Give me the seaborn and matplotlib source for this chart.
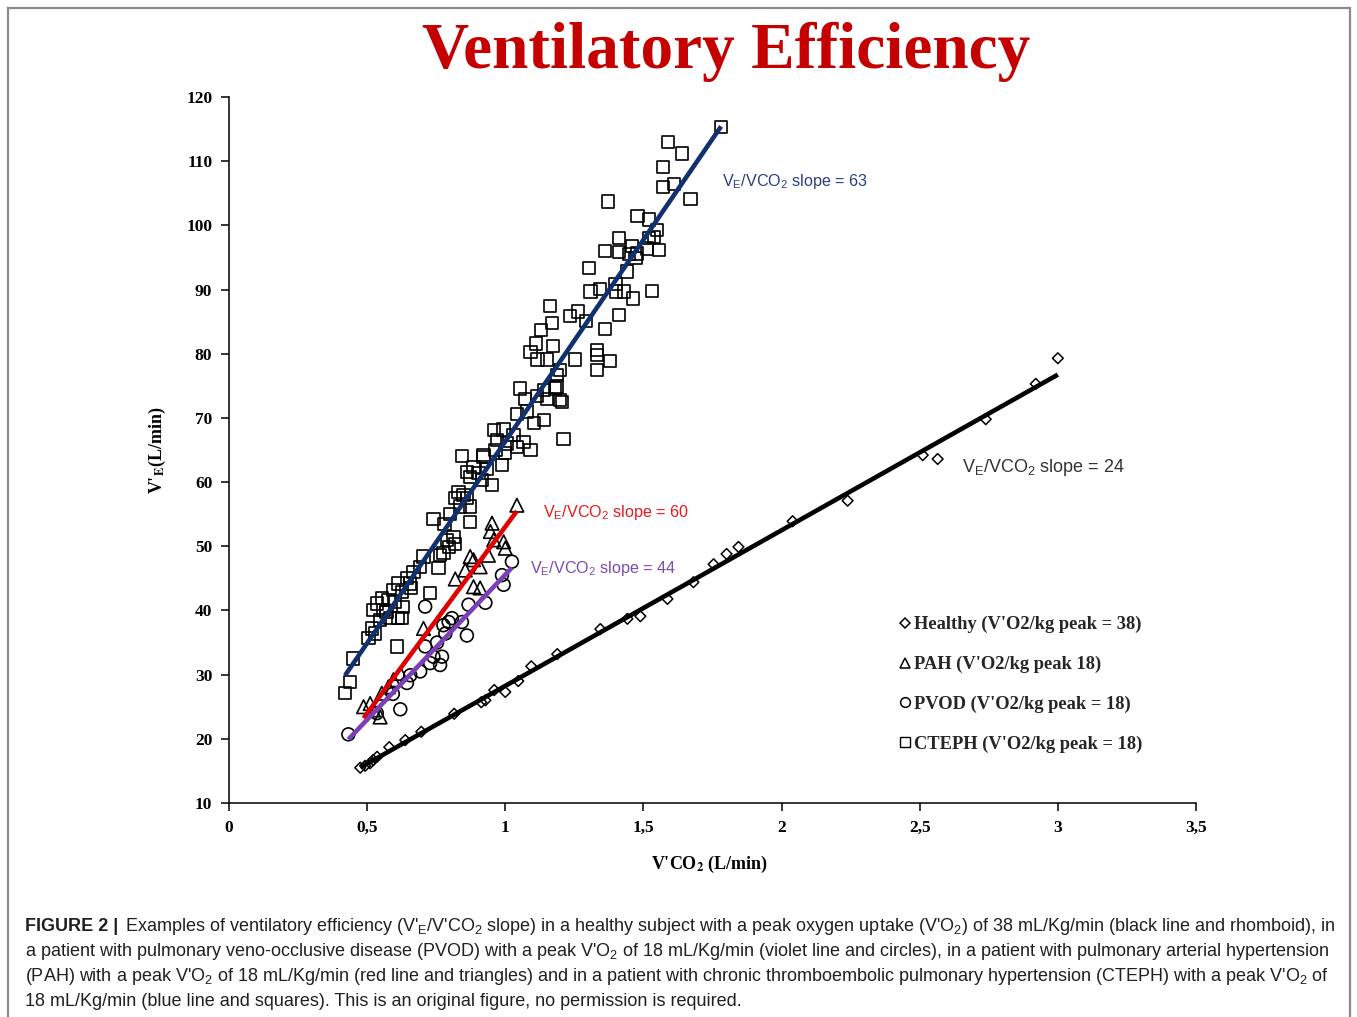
import numpy as np
import matplotlib
matplotlib.use("Agg")
import matplotlib.pyplot as plt
import seaborn as sns
from matplotlib.lines import Line2D
from matplotlib.patches import Rectangle

# ---------------- data ----------------
healthy_x = [0.475, 0.493, 0.511, 0.522, 0.536, 0.580, 0.638, 0.696, 0.815, 0.913, 0.928,
             0.960, 1.000, 1.047, 1.094, 1.188, 1.344, 1.442, 1.489, 1.587, 1.681, 1.754,
             1.801, 1.844, 2.040, 2.239, 2.511, 2.565, 2.739, 2.920, 3.000]
healthy_y = [15.5, 15.8, 16.2, 16.7, 17.2, 18.7, 19.8, 21.1, 23.9, 25.7, 26.0,
             27.6, 27.3, 29.0, 31.3, 33.2, 37.1, 38.7, 39.1, 41.8, 44.4, 47.2,
             48.8, 49.9, 53.9, 57.1, 64.2, 63.6, 69.8, 75.3, 79.3]

pah_x = [0.487, 0.511, 0.523, 0.547, 0.553, 0.577, 0.595, 0.620, 0.704, 0.819, 0.855, 0.873,
         0.885, 0.885, 0.909, 0.909, 0.939, 0.946, 0.952, 0.958, 0.994, 1.000, 1.042]
pah_y = [25.0, 25.5, 24.5, 23.4, 27.1, 28.1, 29.2, 30.2, 37.2, 44.9, 46.3, 48.4,
         47.9, 43.7, 43.5, 46.8, 48.6, 52.3, 53.6, 51.0, 50.7, 49.7, 56.4]

pvod_x = [0.432, 0.535, 0.620, 0.593, 0.644, 0.656, 0.692, 0.728, 0.764, 0.771, 0.740, 0.710,
          0.753, 0.783, 0.776, 0.795, 0.807, 0.861, 0.843, 0.710, 0.867, 0.928, 0.994, 0.988, 1.024]
pvod_y = [20.7, 24.0, 24.6, 27.0, 28.7, 29.9, 30.5, 31.8, 31.5, 32.8, 32.8, 34.4,
          35.0, 36.4, 37.7, 38.2, 38.8, 36.1, 38.2, 40.6, 40.9, 41.2, 44.0, 45.5, 47.6]

cteph_x = [1.781, 1.589, 1.640, 1.571, 1.571, 1.610, 1.670, 1.372, 1.479, 1.519, 1.550, 1.537,
           1.519, 1.411, 1.362, 1.411, 1.459, 1.447, 1.477, 1.513, 1.556, 1.471, 1.441, 1.302,
           1.308, 1.342, 1.399, 1.402, 1.431, 1.463, 1.531, 1.163, 1.233, 1.263, 1.293, 1.411,
           1.169, 1.130, 1.362, 1.112, 1.173, 1.091, 1.117, 1.151, 1.251, 1.332, 1.332, 1.380,
           1.332, 1.199, 1.187, 1.181, 1.052, 1.139, 1.072, 1.115, 1.151, 1.199, 1.205, 1.185,
           1.042, 1.079, 1.139, 1.103, 1.211, 0.958, 0.994, 1.030, 1.066, 0.970, 1.006, 1.091,
           1.042, 0.921, 1.000, 0.843, 0.921, 0.885, 0.861, 0.903, 0.873, 0.952, 0.915, 0.988,
           0.831, 0.849, 0.861, 0.819, 0.873, 0.837, 0.873, 0.740, 0.789, 0.813, 0.819, 0.795,
           0.776, 0.764, 0.758, 0.704, 0.692, 0.668, 0.644, 0.613, 0.656, 0.728, 0.626, 0.595,
           0.577, 0.553, 0.535, 0.601, 0.559, 0.523, 0.613, 0.626, 0.583, 0.547, 0.517, 0.529,
           0.505, 0.608, 0.450, 0.438, 0.420, 0.965, 0.935, 0.800, 0.780, 0.660, 0.630, 0.570]
cteph_y = [115.3, 113.0, 111.2, 109.1, 106.0, 106.4, 104.1, 103.7, 101.5, 100.9, 99.3, 98.2,
           98.0, 98.0, 96.0, 95.9, 96.8, 95.5, 95.6, 96.4, 96.2, 94.9, 92.8, 93.4,
           89.7, 90.1, 90.9, 89.7, 89.7, 88.6, 89.8, 87.4, 85.9, 86.6, 85.1, 86.0,
           84.8, 83.7, 83.9, 81.6, 81.2, 80.3, 79.1, 79.1, 79.1, 80.6, 79.8, 78.9,
           77.5, 77.5, 76.7, 74.6, 74.6, 74.4, 72.9, 73.4, 73.0, 72.8, 72.5, 74.9,
           70.6, 71.0, 69.7, 69.2, 66.7, 68.1, 68.2, 67.3, 66.3, 66.6, 66.0, 65.0,
           65.5, 64.2, 64.5, 64.1, 63.9, 62.4, 61.6, 61.4, 60.8, 59.5, 60.3, 62.7,
           58.5, 58.0, 57.5, 57.5, 56.2, 56.2, 53.8, 54.3, 51.0, 51.5, 50.4, 49.9,
           48.9, 48.6, 46.6, 48.4, 46.8, 46.0, 45.0, 44.2, 44.2, 42.7, 42.9, 43.2,
           41.6, 41.9, 41.1, 41.4, 40.1, 40.1, 38.8, 38.8, 38.8, 38.5, 37.2, 36.4,
           35.7, 34.4, 32.5, 28.9, 27.1, 65.0, 62.0, 55.0, 53.5, 43.5, 40.5, 39.8]

x_ticks = [0, 0.5, 1, 1.5, 2, 2.5, 3, 3.5]
x_tick_labels = ["0", "0,5", "1", "1,5", "2", "2,5", "3", "3,5"]
y_ticks = [10, 20, 30, 40, 50, 60, 70, 80, 90, 100, 110, 120]

legend_labels = ["Healthy (V'O2/kg peak = 38)", "PAH (V'O2/kg peak 18)",
                 "PVOD (V'O2/kg peak = 18)", "CTEPH (V'O2/kg peak = 18)"]
slope_labels = [r"V$_\mathrm{E}$/VCO$_\mathrm{2}$ slope = 24",
                r"V$_\mathrm{E}$/VCO$_\mathrm{2}$ slope = 60",
                r"V$_\mathrm{E}$/VCO$_\mathrm{2}$ slope = 44",
                r"V$_\mathrm{E}$/VCO$_\mathrm{2}$ slope = 63"]

caption_lines = [
    r"Examples of ventilatory efficiency (V'$_\mathrm{E}$/V'CO$_\mathrm{2}$ slope) in a healthy subject with a peak oxygen uptake (V'O$_\mathrm{2}$) of 38 mL/Kg/min (black line and rhomboid), in",
    r"a patient with pulmonary veno-occlusive disease (PVOD) with a peak V'O$_\mathrm{2}$ of 18 mL/Kg/min (violet line and circles), in a patient with pulmonary arterial hypertension",
    r"(PAH) with a peak V'O$_\mathrm{2}$ of 18 mL/Kg/min (red line and triangles) and in a patient with chronic thromboembolic pulmonary hypertension (CTEPH) with a peak V'O$_\mathrm{2}$ of",
    r"18 mL/Kg/min (blue line and squares). This is an original figure, no permission is required.",
]

# ---------------- style ----------------
sns.set_theme(style="white")
plt.rcParams['font.family'] = ['Liberation Serif', 'DejaVu Serif']
plt.rcParams['mathtext.fontset'] = 'custom'
plt.rcParams['mathtext.rm'] = 'Liberation Sans'
plt.rcParams['mathtext.it'] = 'Liberation Sans:italic'
plt.rcParams['mathtext.bf'] = 'Liberation Sans:bold'

W, H = 1357, 1017
fig = plt.figure(figsize=(W / 100, H / 100), dpi=100)
fig.patch.set_facecolor("white")

def fx(px):
    return px / W

def fy(py):
    return 1 - py / H

ax = fig.add_axes([fx(229), fy(803), (1196 - 229) / W, (803 - 97) / H])
ax.set_facecolor("white")

BLUE = "#10306F"
RED = "#E00000"
VIOLET = "#7B3FB8"
BLACK = "#000000"

mk = dict(facecolor="none", edgecolor="black", zorder=2)
sns.scatterplot(x=healthy_x, y=healthy_y, marker="D", s=30, linewidth=1.1, ax=ax, **mk)
sns.scatterplot(x=pah_x, y=pah_y, marker="^", s=95, linewidth=1.2, ax=ax, **mk)
sns.scatterplot(x=pvod_x, y=pvod_y, marker="o", s=85, linewidth=1.2, ax=ax, **mk)
sns.scatterplot(x=cteph_x, y=cteph_y, marker="s", s=78, linewidth=1.2, ax=ax, **mk)

for xs, ys, col in [(healthy_x, healthy_y, BLACK), (cteph_x, cteph_y, BLUE),
                    (pah_x, pah_y, RED), (pvod_x, pvod_y, VIOLET)]:
    sns.regplot(x=np.array(xs), y=np.array(ys), scatter=False, ci=None, truncate=True,
                color=col, line_kws=dict(lw=3.3, zorder=3, solid_capstyle="butt"), ax=ax)

ax.set_xlim(0, 3.5)
ax.set_ylim(10, 120)
ax.set_xticks(x_ticks)
ax.set_xticklabels(x_tick_labels)
ax.set_yticks(y_ticks)
for lab in ax.get_xticklabels() + ax.get_yticklabels():
    lab.set_fontweight("bold")
    lab.set_fontsize(12.5)
    lab.set_color("black")
ax.tick_params(axis="both", which="both", direction="out", length=6, width=1.1,
               bottom=True, left=True, color="black", pad=6)
for side in ["top", "right"]:
    ax.spines[side].set_visible(False)
for side in ["left", "bottom"]:
    ax.spines[side].set_color("black")
    ax.spines[side].set_linewidth(1.1)
ax.grid(False)

ax.set_xlabel("")
ax.set_ylabel("")

# axis labels
fig.text(fx(710), fy(864), r"V'CO$_\mathbf{2}$ (L/min)", ha="center", va="center",
         fontsize=13, fontweight="bold", color="black", math_fontfamily="stix")
fig.text(fx(157), fy(450), r"V'$_\mathbf{E}$(L/min)", ha="center", va="center",
         rotation=90, fontsize=13, fontweight="bold", color="black", math_fontfamily="stix")

# slope annotations
ann_font = ['Liberation Sans', 'DejaVu Sans']
ax.text(2.652, 62.2, slope_labels[0], color="#333333", fontsize=13, family=ann_font,
        ha="left", va="center")
ax.text(1.135, 55.3, slope_labels[1], color="#E41A1C", fontsize=11.6, family=ann_font,
        ha="left", va="center")
ax.text(1.088, 46.5, slope_labels[2], color="#7B4BB5", fontsize=11.6, family=ann_font,
        ha="left", va="center")
ax.text(1.783, 106.9, slope_labels[3], color="#2B3C84", fontsize=11.6, family=ann_font,
        ha="left", va="center")

# legend
handles = [
    Line2D([], [], ls="none", marker="D", ms=5.5, mfc="none", mec="black", mew=1.1),
    Line2D([], [], ls="none", marker="^", ms=7, mfc="none", mec="black", mew=1.1),
    Line2D([], [], ls="none", marker="o", ms=7, mfc="none", mec="black", mew=1.1),
    Line2D([], [], ls="none", marker="s", ms=7, mfc="none", mec="black", mew=1.0),
]
leg = ax.legend(handles, legend_labels, loc="upper left",
                bbox_to_anchor=((899 - 229) / 967, (803 - 616) / 706),
                frameon=False, handlelength=0.6, handletextpad=0.2, labelspacing=1.22,
                borderpad=0, borderaxespad=0,
                prop=dict(family=['Liberation Serif'], weight="bold", size=13.3))

# title
fig.text(fx(726), fy(52), "Ventilatory Efficiency", ha="center", va="center",
         fontsize=47, fontweight="bold", color="#C40000", family=['Liberation Serif'])

# caption
cap_font = ['Liberation Sans', 'DejaVu Sans']
cap_col = "#231F20"
cap_size = 13
baselines = [931, 956, 981, 1006]
fig.text(fx(25), fy(baselines[0]), "FIGURE 2 |", ha="left", va="baseline",
         fontsize=cap_size, fontweight="bold", family=cap_font, color=cap_col)
fig.text(fx(125), fy(baselines[0]), caption_lines[0], ha="left", va="baseline",
         fontsize=cap_size, family=cap_font, color=cap_col)
for line, b in zip(caption_lines[1:], baselines[1:]):
    fig.text(fx(25), fy(b), line, ha="left", va="baseline",
             fontsize=cap_size, family=cap_font, color=cap_col)

# outer frame
fig.patches.append(Rectangle((fx(8), fy(1040)), (1350 - 8) / W, (1040 - 8) / H,
                             transform=fig.transFigure, fill=False,
                             edgecolor="#8A8A8A", lw=1.6, zorder=0))

fig.savefig("out.png", dpi=100, facecolor="white")
